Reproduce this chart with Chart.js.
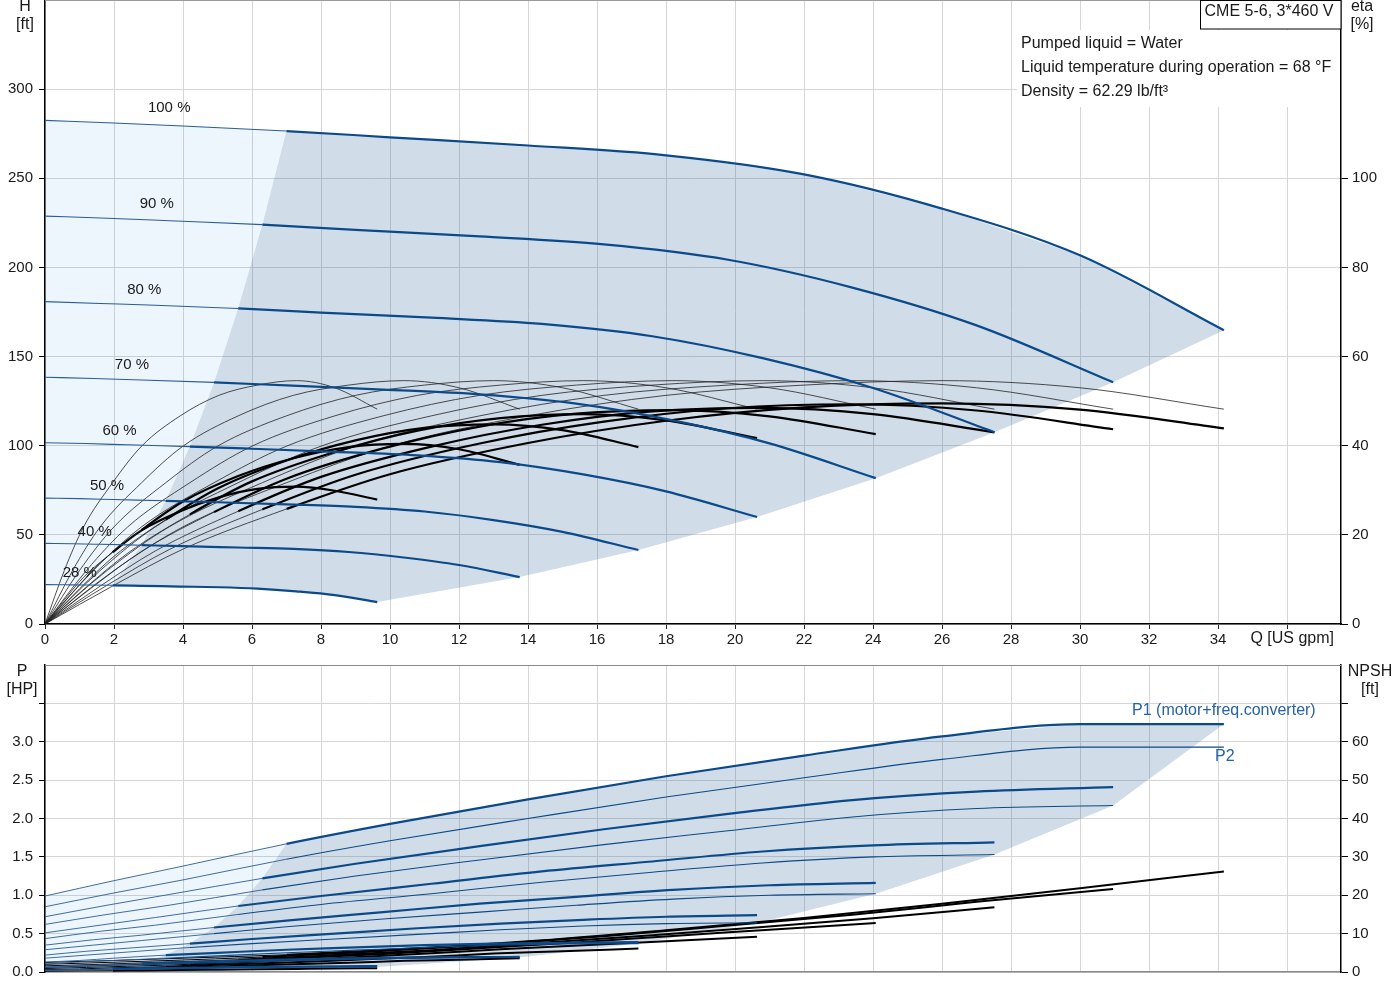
<!DOCTYPE html>
<html>
<head>
<meta charset="utf-8">
<script src="https://cdn.jsdelivr.net/npm/chart.js@4.4.1/dist/chart.umd.min.js"></script>
<style>
  html, body { margin: 0; padding: 0; background: #fff; }
  #wrap { position: relative; width: 1400px; height: 1000px; }
  #topChart { position: absolute; left: 0; top: 0; }
  #bottomChart { position: absolute; left: 0; top: 650px; }
</style>
</head>
<body>
<div id="wrap">
  <canvas id="topChart" width="1400" height="650"></canvas>
  <canvas id="bottomChart" width="1400" height="350"></canvas>
</div>
<script>
// speed curves, labels as printed on the chart
const speedLabels = ['100 %', '90 %', '80 %', '70 %', '60 %', '50 %', '40 %', '28 %'];

// flow points of each speed curve [US gpm] (index 3 = min. flow)
const q100 = [0, 2, 4, 7, 10, 14, 18, 22, 26, 30, 34.17];
const q90 = [0, 1.8, 3.6, 6.3, 9, 12.6, 16.2, 19.8, 23.4, 27, 30.96];
const q80 = [0, 1.6, 3.2, 5.6, 8, 11.2, 14.4, 17.6, 20.8, 24, 27.52];
const q70 = [0, 1.4, 2.8, 4.9, 7, 9.8, 12.6, 15.4, 18.2, 21, 24.08];
const q60 = [0, 1.2, 2.4, 4.2, 6, 8.4, 10.8, 13.2, 15.6, 18, 20.64];
const q50 = [0, 1, 2, 3.5, 5, 7, 9, 11, 13, 15, 17.2];
const q40 = [0, 0.8, 1.6, 2.8, 4, 5.6, 7.2, 8.8, 10.4, 12, 13.76];
const q28 = [0, 0.56, 1.12, 1.96, 2.8, 3.92, 5.04, 6.16, 7.28, 8.4, 9.63];

// head [ft]
const h100 = [282.5, 281.0, 279.3, 276.5, 273.0, 268.4, 262.9, 252.2, 233.0, 206.8, 164.8];
const h90 = [228.8, 227.6, 226.2, 224.0, 221.1, 217.4, 212.9, 204.3, 188.7, 167.5, 135.6];
const h80 = [180.8, 179.8, 178.8, 177.0, 174.7, 171.8, 168.3, 161.4, 149.1, 132.4, 107.6];
const h70 = [138.4, 137.7, 136.9, 135.5, 133.8, 131.5, 128.8, 123.6, 114.2, 101.3, 81.8];
const h60 = [101.7, 101.2, 100.5, 99.5, 98.3, 96.6, 94.6, 90.8, 83.9, 74.4, 60.0];
const h50 = [70.6, 70.3, 69.8, 69.1, 68.3, 67.1, 65.7, 63.1, 58.3, 51.7, 41.5];
const h40 = [45.2, 45.0, 44.7, 44.2, 43.7, 42.9, 42.1, 40.4, 37.3, 33.1, 26.3];
const h28 = [22.1, 22.0, 21.9, 21.7, 21.4, 21.0, 20.6, 19.8, 18.3, 16.2, 12.3];

// pump efficiency [%] (thin curves, same shape at every speed)
const etaPump = [0, 12.0, 21.8, 31.7, 39.9, 46.7, 51.3, 53.6, 54.6, 53.0, 48.2];

// total efficiency [%] (thick curves)
const etaT100 = [0, 8.7, 16.8, 25.8, 33.6, 40.6, 45.6, 48.6, 49.5, 48.1, 43.9];
const etaT90 = [0, 8.7, 16.7, 25.7, 33.5, 40.5, 45.4, 48.4, 49.3, 47.9, 43.7];
const etaT80 = [0, 8.5, 16.4, 25.3, 33.0, 39.8, 44.7, 47.7, 48.5, 47.1, 43.0];
const etaT70 = [0, 8.4, 16.3, 25.1, 32.6, 39.4, 44.3, 47.2, 48.0, 46.6, 42.6];
const etaT60 = [0, 8.3, 15.9, 24.6, 32.0, 38.6, 43.4, 46.2, 47.1, 45.7, 41.7];
const etaT50 = [0, 7.9, 15.2, 23.4, 30.4, 36.7, 41.2, 44.0, 44.8, 43.5, 39.7];
const etaT40 = [0, 7.1, 13.7, 21.1, 27.5, 33.2, 37.2, 39.7, 40.4, 39.2, 35.7];
const etaT28 = [0, 5.4, 10.5, 16.1, 21.0, 25.3, 28.4, 30.3, 30.8, 29.9, 27.9];

// P1 motor + freq. converter [HP]
const p1_100 = [0.99, 1.19, 1.38, 1.67, 1.93, 2.25, 2.55, 2.82, 3.07, 3.23, 3.23];
const p1_90 = [0.72, 0.87, 1.01, 1.22, 1.41, 1.64, 1.86, 2.06, 2.24, 2.35, 2.41];
const p1_80 = [0.51, 0.61, 0.71, 0.86, 0.99, 1.15, 1.31, 1.44, 1.57, 1.65, 1.69];
const p1_70 = [0.35, 0.42, 0.48, 0.58, 0.67, 0.78, 0.89, 0.98, 1.07, 1.13, 1.16];
const p1_60 = [0.22, 0.27, 0.31, 0.37, 0.43, 0.50, 0.57, 0.63, 0.68, 0.72, 0.74];
const p1_50 = [0.13, 0.15, 0.18, 0.22, 0.25, 0.29, 0.32, 0.35, 0.37, 0.38, 0.39];
const p1_40 = [0.068, 0.08, 0.092, 0.11, 0.127, 0.147, 0.165, 0.178, 0.188, 0.193, 0.196];
const p1_28 = [0.025, 0.029, 0.033, 0.04, 0.046, 0.053, 0.06, 0.066, 0.071, 0.075, 0.078];

// P2 shaft power [HP]
const p2_100 = [0.85, 1.03, 1.20, 1.47, 1.71, 2.00, 2.28, 2.53, 2.77, 2.93, 2.93];
const p2_90 = [0.62, 0.75, 0.87, 1.07, 1.25, 1.46, 1.66, 1.84, 2.02, 2.13, 2.17];
const p2_80 = [0.435, 0.53, 0.61, 0.75, 0.88, 1.02, 1.17, 1.30, 1.42, 1.50, 1.53];
const p2_70 = [0.29, 0.35, 0.41, 0.50, 0.59, 0.69, 0.78, 0.87, 0.95, 1.00, 1.02];
const p2_60 = [0.18, 0.22, 0.26, 0.32, 0.37, 0.43, 0.49, 0.55, 0.60, 0.63, 0.64];
const p2_50 = [0.106, 0.13, 0.15, 0.18, 0.21, 0.25, 0.285, 0.32, 0.35, 0.365, 0.37];
const p2_40 = [0.054, 0.066, 0.077, 0.094, 0.11, 0.128, 0.146, 0.162, 0.177, 0.187, 0.19];
const p2_28 = [0.019, 0.023, 0.026, 0.032, 0.038, 0.044, 0.05, 0.056, 0.061, 0.064, 0.066];

// NPSH [ft]
const n100 = [2.5, 3.0, 3.6, 4.5, 5.8, 8.0, 10.9, 14.1, 17.8, 21.8, 26.2];
const n90 = [2.0, 2.5, 3.0, 3.9, 5.1, 7.0, 9.3, 12.1, 14.9, 18.3, 21.6];
const n80 = [1.6, 2.0, 2.5, 3.2, 4.2, 5.7, 7.6, 9.6, 11.7, 14.0, 16.9];
const n70 = [1.2, 1.6, 2.0, 2.6, 3.5, 4.7, 6.2, 7.7, 9.4, 11.0, 12.8];
const n60 = [0.9, 1.2, 1.5, 2.0, 2.7, 3.6, 4.7, 5.9, 7.0, 8.0, 9.2];
const n50 = [0.6, 0.8, 1.1, 1.4, 1.9, 2.5, 3.2, 3.9, 4.8, 5.4, 6.1];
const n40 = [0.4, 0.55, 0.7, 0.9, 1.2, 1.6, 2.0, 2.4, 2.9, 3.2, 3.6];
const n28 = [0.2, 0.25, 0.3, 0.35, 0.42, 0.5, 0.6, 0.7, 0.8, 0.9, 1.0];

// axis ticks
const qTicks = [0, 2, 4, 6, 8, 10, 12, 14, 16, 18, 20, 22, 24, 26, 28, 30, 32, 34, 36];
const hTicks = [0, 50, 100, 150, 200, 250, 300];
const etaTicks = [0, 20, 40, 60, 80, 100];
const pTicks = [0, 0.5, 1.0, 1.5, 2.0, 2.5, 3.0, 3.5];
const npshTicks = [0, 10, 20, 30, 40, 50, 60, 70];

const infoLines = ['Pumped liquid = Water', 'Liquid temperature during operation = 68 °F', 'Density = 62.29 lb/ft³'];

const qSets = [q100, q90, q80, q70, q60, q50, q40, q28];
const hSets = [h100, h90, h80, h70, h60, h50, h40, h28];
const etaTSets = [etaT100, etaT90, etaT80, etaT70, etaT60, etaT50, etaT40, etaT28];
const p1Sets = [p1_100, p1_90, p1_80, p1_70, p1_60, p1_50, p1_40, p1_28];
const p2Sets = [p2_100, p2_90, p2_80, p2_70, p2_60, p2_50, p2_40, p2_28];
const npshSets = [n100, n90, n80, n70, n60, n50, n40, n28];

const MIN_IDX = 3;
const BLUE = '#0b4a8a';
const BLUE_THIN = '#2a5d96';
const LIGHT_FILL = 'rgba(0, 120, 230, 0.07)';
const DARK_FILL = 'rgba(20, 80, 140, 0.2)';
const GRID = '#d6d6d6';
const FONT = '"Liberation Sans", Arial, sans-serif';
const Q_MAX = 37.565;

function pts(qa, va) {
    return qa.map((q, i) => ({ x: q, y: va[i] }));
}

function curve(qa, va, axis, thin, thick, colThin, colThick) {
    return {
        data: pts(qa, va),
        yAxisID: axis,
        borderColor: colThick,
        borderWidth: thick,
        pointRadius: 0,
        fill: false,
        cubicInterpolationMode: 'monotone',
        segment: {
            borderWidth: c => (c.p1DataIndex <= MIN_IDX ? thin : thick),
            borderColor: c => (c.p1DataIndex <= MIN_IDX ? colThin : colThick)
        }
    };
}

function poly(points, color, axis) {
    return {
        data: points,
        yAxisID: axis,
        backgroundColor: color,
        borderWidth: 0,
        pointRadius: 0,
        fill: 'shape',
        tension: 0
    };
}

// light area left of min. flow, dark area of the operating range
function lightArea(vSets) {
    const last = vSets.length - 1;
    const out = [];
    for (let i = 0; i <= MIN_IDX; i++) out.push({ x: qSets[0][i], y: vSets[0][i] });
    for (let s = 1; s <= last; s++) out.push({ x: qSets[s][MIN_IDX], y: vSets[s][MIN_IDX] });
    for (let i = MIN_IDX - 1; i >= 0; i--) out.push({ x: qSets[last][i], y: vSets[last][i] });
    return out;
}

function darkArea(topSets, lowSets) {
    const last = topSets.length - 1;
    const n = qSets[0].length - 1;
    const out = [];
    for (let i = MIN_IDX; i <= n; i++) out.push({ x: qSets[0][i], y: topSets[0][i] });
    for (let s = 1; s <= last; s++) out.push({ x: qSets[s][n], y: lowSets[s][n] });
    for (let i = n - 1; i >= MIN_IDX; i--) out.push({ x: qSets[last][i], y: topSets[last][i] });
    for (let s = last - 1; s >= 1; s--) out.push({ x: qSets[s][MIN_IDX], y: topSets[s][MIN_IDX] });
    return out;
}

function keepTicks(list) {
    return axis => {
        axis.ticks = list.map(v => ({ value: v }));
    };
}

function xScale(showLabels, borderColor) {
    return {
        type: 'linear',
        min: 0,
        max: Q_MAX,
        position: 'bottom',
        afterBuildTicks: keepTicks(qTicks),
        ticks: {
            display: showLabels,
            autoSkip: false,
            maxRotation: 0,
            padding: 2,
            color: '#1a1a1a',
            font: { family: FONT, size: 15 },
            callback: v => (v > 34 ? '' : v)
        },
        grid: { color: GRID, lineWidth: 1, drawTicks: showLabels, tickLength: 5, tickColor: '#222' },
        border: { color: borderColor, width: 1.5 },
        afterFit: s => {
            s.height = showLabels ? 26 : 28;
            s.paddingRight = 0;
        }
    };
}

function yScale(side, min, max, list, lastLabel, fmt, width, withGrid) {
    return {
        type: 'linear',
        position: side,
        min: min,
        max: max,
        afterBuildTicks: keepTicks(list),
        ticks: {
            autoSkip: false,
            padding: side === 'left' ? 6 : 4,
            color: '#1a1a1a',
            font: { family: FONT, size: 15 },
            callback: v => (v > lastLabel + 1e-9 ? '' : fmt(v))
        },
        grid: {
            display: true,
            drawOnChartArea: withGrid,
            color: GRID,
            lineWidth: 1,
            tickLength: side === 'left' ? 6 : 7,
            tickColor: '#000'
        },
        border: { color: '#000', width: 1.5 },
        afterFit: s => {
            s.width = width;
            s.paddingTop = 0;
            s.paddingBottom = 0;
        }
    };
}

function text(ctx, str, x, y, align, color, size) {
    ctx.save();
    ctx.font = (size || 16) + 'px ' + FONT;
    ctx.fillStyle = color || '#1a1a1a';
    ctx.textAlign = align || 'center';
    ctx.textBaseline = 'middle';
    ctx.fillText(str, x, y);
    ctx.restore();
}

const topDecor = {
    id: 'topDecor',
    afterDraw(chart) {
        const { ctx, chartArea: a, scales } = chart;
        // top border
        ctx.save();
        ctx.strokeStyle = '#9a9a9a';
        ctx.lineWidth = 1;
        ctx.beginPath();
        ctx.moveTo(a.left, a.top + 0.5);
        ctx.lineTo(a.right, a.top + 0.5);
        ctx.stroke();
        // white block behind the liquid info
        ctx.fillStyle = '#fff';
        ctx.fillRect(1017, 30, a.right - 1017 - 1, 77);
        // title box
        ctx.fillRect(1200, 0, a.right - 1200, 29);
        ctx.strokeStyle = '#000';
        ctx.strokeRect(1200.5, 0.5, a.right - 1200.5, 28.5);
        ctx.restore();
        text(ctx, 'CME 5-6, 3*460 V', 1269, 12);
        infoLines.forEach((l, i) => text(ctx, l, 1021, 44 + i * 24, 'left'));
        // axis titles
        text(ctx, 'H', 25, 7);
        text(ctx, '[ft]', 25, 25);
        text(ctx, 'eta', 1362, 7);
        text(ctx, '[%]', 1362, 25);
        text(ctx, 'Q [US gpm]', scales.x.getPixelForValue(36.15), 639);
        // speed labels
        speedLabels.forEach((lab, s) => {
            const x = scales.x.getPixelForValue(qSets[s][2] * 0.9);
            const y = scales.y.getPixelForValue(hSets[s][0]) - 12;
            text(ctx, lab, x, y, 'center', '#1a1a1a', 15);
        });
    }
};

const bottomDecor = {
    id: 'bottomDecor',
    afterDraw(chart) {
        const { ctx, chartArea: a, scales } = chart;
        ctx.save();
        ctx.strokeStyle = '#8a8a8a';
        ctx.lineWidth = 1;
        ctx.beginPath();
        ctx.moveTo(a.left, a.top + 0.5);
        ctx.lineTo(a.right, a.top + 0.5);
        ctx.stroke();
        ctx.restore();
        text(ctx, 'P', 22, 22);
        text(ctx, '[HP]', 22, 40);
        text(ctx, 'NPSH', 1370, 22);
        text(ctx, '[ft]', 1370, 40);
        const n = q100.length - 1;
        const xe = scales.x.getPixelForValue(q100[n]);
        text(ctx, 'P1 (motor+freq.converter)', xe, scales.y.getPixelForValue(p1_100[n]) - 14, 'center', '#2563a6');
        text(ctx, 'P2', xe + 1, scales.y.getPixelForValue(p2_100[n]) + 9, 'center', '#2563a6');
    }
};

// ---------- top chart: H and eta ----------
const topSets = [];
hSets.forEach((h, s) => topSets.push(curve(qSets[s], h, 'y', 1.1, 2.2, BLUE_THIN, BLUE)));
etaTSets.forEach((e, s) => topSets.push(curve(qSets[s], e, 'y2', 0.8, 2.2, '#222', '#000')));
qSets.forEach(q => topSets.push(curve(q, etaPump, 'y2', 0.8, 0.8, '#222', '#222')));
topSets.push(poly(lightArea(hSets), LIGHT_FILL, 'y'));
topSets.push(poly(darkArea(hSets, hSets), DARK_FILL, 'y'));

new Chart(document.getElementById('topChart'), {
    type: 'line',
    data: { datasets: topSets },
    options: {
        responsive: false,
        devicePixelRatio: 1,
        animation: false,
        events: [],
        layout: { padding: { top: 0, left: 0, right: 0, bottom: 0 } },
        plugins: { legend: { display: false }, tooltip: { enabled: false } },
        scales: {
            x: xScale(true, '#000'),
            y: yScale('left', 0, 350, hTicks, 300, v => v, 45, true),
            y2: yScale('right', 0, 140, etaTicks, 100, v => v, 59, false)
        }
    },
    plugins: [topDecor]
});

// ---------- bottom chart: P1, P2, NPSH ----------
const bottomSets = [];
p1Sets.forEach((p, s) => bottomSets.push(curve(qSets[s], p, 'y', 0.9, 2.2, BLUE_THIN, BLUE)));
p2Sets.forEach((p, s) => bottomSets.push(curve(qSets[s], p, 'y', 0.9, 1.1, BLUE_THIN, BLUE)));
npshSets.forEach((n, s) => bottomSets.push(curve(qSets[s], n, 'y2', 1, 2, '#000', '#000')));
bottomSets.push(poly(lightArea(p1Sets), LIGHT_FILL, 'y'));
bottomSets.push(poly(darkArea(p1Sets, p2Sets), DARK_FILL, 'y'));

new Chart(document.getElementById('bottomChart'), {
    type: 'line',
    data: { datasets: bottomSets },
    options: {
        responsive: false,
        devicePixelRatio: 1,
        animation: false,
        events: [],
        layout: { padding: { top: 15, left: 0, right: 0, bottom: 0 } },
        plugins: { legend: { display: false }, tooltip: { enabled: false } },
        scales: {
            x: xScale(false, '#8a8a8a'),
            y: yScale('left', 0, 4, pTicks, 3.0, v => v.toFixed(1), 45, true),
            y2: yScale('right', 0, 80, npshTicks, 60, v => v, 59, false)
        }
    },
    plugins: [bottomDecor]
});
</script>
</body>
</html>
